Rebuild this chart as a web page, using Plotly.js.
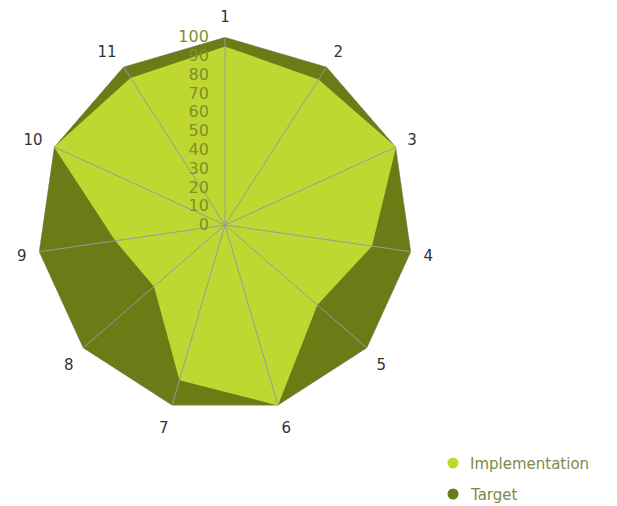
<!DOCTYPE html>
<html><head><meta charset="utf-8">
<script src="https://cdn.plot.ly/plotly-3.0.1.min.js"></script>
<style>html,body{margin:0;padding:0;background:#fff}</style>
</head><body>
<div id="chart" style="width:617px;height:506px"></div>
<script>
var categories = ["1","2","3","4","5","6","7","8","9","10","11"];
var implementation = [95, 92, 100, 79, 65, 100, 86, 50, 59, 100, 93];
var target = [100, 100, 100, 100, 100, 100, 100, 100, 100, 100, 100];
var radialTicks = [0,10,20,30,40,50,60,70,80,90,100];
var seriesNames = ["Implementation", "Target"];
var seriesColors = ["#bfd731", "#6b7b16"];

function closed(a){ return a.concat([a[0]]); }

// spokes from the centre out to each target vertex
var spokeR = [], spokeT = [];
categories.forEach(function(c, i){ spokeR.push(0, target[i], null); spokeT.push(c, c, c); });

var data = [
  {type:'scatterpolar', r: closed(target), theta: closed(categories), fill:'toself',
   fillcolor:seriesColors[1], mode:'lines', line:{color:'#9a9a9a', width:1}, showlegend:false, name:seriesNames[1], hoverinfo:'skip'},
  {type:'scatterpolar', r: closed(implementation), theta: closed(categories), fill:'toself',
   fillcolor:seriesColors[0], mode:'lines', line:{color:'rgba(0,0,0,0)', width:0}, showlegend:false, name:seriesNames[0], hoverinfo:'skip'},
  {type:'scatterpolar', r: spokeR, theta: spokeT, mode:'lines', line:{color:'#9a9a9a', width:1},
   showlegend:false, hoverinfo:'skip'}
];

// legend drawn as shapes + annotations (so it doesn't push the margins)
var W = 617, H = 506;
var legendRows = [463, 494];
var shapes = [], annotations = [];
seriesNames.forEach(function(n, i){
  var cy = legendRows[i];
  shapes.push({type:'circle', xref:'paper', yref:'paper', x0:(453-5.5)/W, x1:(453+5.5)/W,
    y0:1-(cy+5.5)/H, y1:1-(cy-5.5)/H, fillcolor:seriesColors[i], line:{width:0}});
  annotations.push({xref:'paper', yref:'paper', x:468/W, y:1-(cy+1)/H, xanchor:'left', yanchor:'middle',
    text:n, showarrow:false, font:{family:'DejaVu Sans, sans-serif', size:15, color:'#7d8a45'}});
});

var layout = {
  width:W, height:H,
  margin:{l:0,r:0,t:0,b:0},
  paper_bgcolor:'#fff',
  font:{family:'DejaVu Sans, sans-serif'},
  showlegend:false,
  shapes:shapes, annotations:annotations,
  polar:{
    domain:{x:[37/W, 413/W], y:[1-413/H, 1-37/H]},
    bgcolor:'rgba(0,0,0,0)',
    gridshape:'linear',
    angularaxis:{type:'category', direction:'clockwise', rotation:90, showline:false, showgrid:false,
      ticks:'outside', ticklen:9, tickcolor:'rgba(0,0,0,0)', tickfont:{size:15, color:'#333'}},
    radialaxis:{range:[0,100], angle:90, tickangle:90, tickvals:radialTicks, ticktext:radialTicks.map(String),
      showgrid:false, showline:false, ticks:'outside', ticklen:10, tickcolor:'rgba(0,0,0,0)', side:'counterclockwise',
      tickfont:{size:16, color:'#80902a'}, layer:'above traces'}
  }
};
Plotly.newPlot('chart', data, layout, {displayModeBar:false});
</script>
</body></html>
